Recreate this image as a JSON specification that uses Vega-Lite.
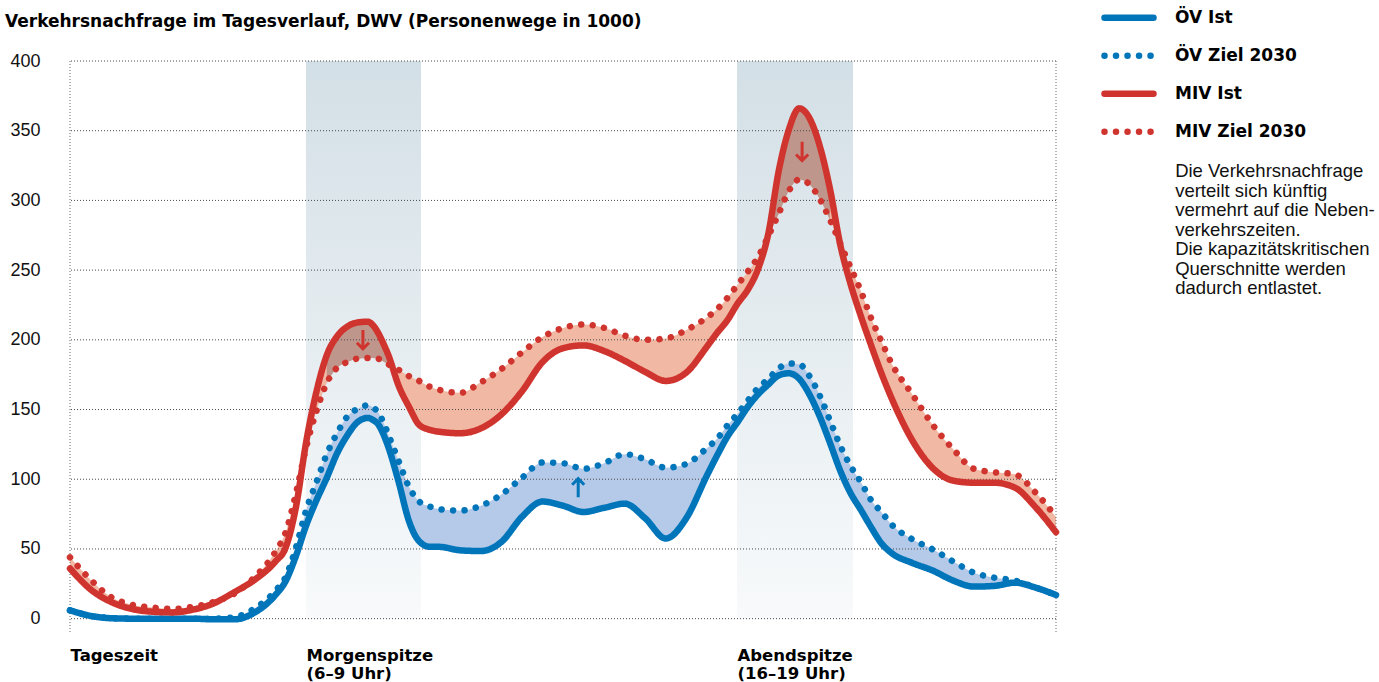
{
  "$schema": "https://vega.github.io/schema/vega-lite/v6.json",
  "width": 986,
  "height": 573,
  "autosize": {"type": "none"},
  "padding": {"left": 70, "top": 61, "right": 323, "bottom": 48},
  "background": "#ffffff",
  "title": {
    "text": "Verkehrsnachfrage im Tagesverlauf, DWV (Personenwege in 1000)",
    "anchor": "start",
    "frame": "group",
    "dx": -65,
    "dy": 56,
    "offset": 24,
    "font": "DejaVu Sans",
    "fontSize": 17,
    "fontWeight": "bold",
    "color": "#000000"
  },
  "datasets": {
    "verlauf": [
      {"t": 0, "oev_ist": 6, "oev_ziel": 6, "miv_ist": 36, "miv_ziel": 44},
      {"t": 0.5, "oev_ist": 2, "oev_ziel": 2, "miv_ist": 21, "miv_ziel": 28},
      {"t": 1, "oev_ist": 0.3, "oev_ziel": 0.5, "miv_ist": 12, "miv_ziel": 15.5},
      {"t": 1.5, "oev_ist": 0, "oev_ziel": 0, "miv_ist": 7, "miv_ziel": 10},
      {"t": 2, "oev_ist": 0, "oev_ziel": 0, "miv_ist": 5, "miv_ziel": 8},
      {"t": 2.5, "oev_ist": 0, "oev_ziel": 0, "miv_ist": 4.5, "miv_ziel": 7},
      {"t": 3, "oev_ist": 0, "oev_ziel": 0, "miv_ist": 6.5, "miv_ziel": 8.5},
      {"t": 3.5, "oev_ist": -0.5, "oev_ziel": 0, "miv_ist": 11, "miv_ziel": 12},
      {"t": 4, "oev_ist": -0.5, "oev_ziel": 1, "miv_ist": 19, "miv_ziel": 18},
      {"t": 4.5, "oev_ist": 4.5, "oev_ziel": 7.5, "miv_ist": 28, "miv_ziel": 30},
      {"t": 5, "oev_ist": 17, "oev_ziel": 20, "miv_ist": 41, "miv_ziel": 48},
      {"t": 5.25, "oev_ist": 27, "oev_ziel": 30, "miv_ist": 51, "miv_ziel": 62},
      {"t": 5.5, "oev_ist": 45, "oev_ziel": 51, "miv_ist": 80, "miv_ziel": 90},
      {"t": 5.75, "oev_ist": 67, "oev_ziel": 78, "miv_ist": 127, "miv_ziel": 123},
      {"t": 6, "oev_ist": 85, "oev_ziel": 98, "miv_ist": 163, "miv_ziel": 149},
      {"t": 6.25, "oev_ist": 101, "oev_ziel": 118, "miv_ist": 189, "miv_ziel": 169},
      {"t": 6.5, "oev_ist": 118.5, "oev_ziel": 133, "miv_ist": 202.5, "miv_ziel": 180},
      {"t": 6.75, "oev_ist": 131.5, "oev_ziel": 145, "miv_ist": 209.5, "miv_ziel": 184},
      {"t": 7, "oev_ist": 141, "oev_ziel": 150.5, "miv_ist": 212.5, "miv_ziel": 186.5},
      {"t": 7.25, "oev_ist": 144, "oev_ziel": 153, "miv_ist": 213, "miv_ziel": 187},
      {"t": 7.375, "oev_ist": 142.5, "oev_ziel": 151.5, "miv_ist": 210.5, "miv_ziel": 187},
      {"t": 7.5, "oev_ist": 139.5, "oev_ziel": 148, "miv_ist": 205, "miv_ziel": 186.5},
      {"t": 7.625, "oev_ist": 132.5, "oev_ziel": 141, "miv_ist": 197.5, "miv_ziel": 184.5},
      {"t": 7.75, "oev_ist": 123, "oev_ziel": 132, "miv_ist": 189, "miv_ziel": 182.5},
      {"t": 8, "oev_ist": 98, "oev_ziel": 113, "miv_ist": 167, "miv_ziel": 178.5},
      {"t": 8.25, "oev_ist": 70, "oev_ziel": 94.6, "miv_ist": 152, "miv_ziel": 174},
      {"t": 8.5, "oev_ist": 55.5, "oev_ziel": 84, "miv_ist": 139, "miv_ziel": 170.5},
      {"t": 8.75, "oev_ist": 51.6, "oev_ziel": 80.5, "miv_ist": 135.5, "miv_ziel": 166.5},
      {"t": 9, "oev_ist": 51.5, "oev_ziel": 78.5, "miv_ist": 134, "miv_ziel": 164},
      {"t": 9.5, "oev_ist": 49, "oev_ziel": 77.5, "miv_ist": 133, "miv_ziel": 162},
      {"t": 10, "oev_ist": 48.5, "oev_ziel": 81, "miv_ist": 136.5, "miv_ziel": 169.5},
      {"t": 10.5, "oev_ist": 55, "oev_ziel": 89, "miv_ist": 146.5, "miv_ziel": 179},
      {"t": 11, "oev_ist": 73, "oev_ziel": 101, "miv_ist": 163, "miv_ziel": 191},
      {"t": 11.5, "oev_ist": 84, "oev_ziel": 112, "miv_ist": 184, "miv_ziel": 202},
      {"t": 12, "oev_ist": 81, "oev_ziel": 111.5, "miv_ist": 194, "miv_ziel": 208.5},
      {"t": 12.5, "oev_ist": 76.5, "oev_ziel": 107.5, "miv_ist": 196, "miv_ziel": 211},
      {"t": 13, "oev_ist": 79.5, "oev_ziel": 111.5, "miv_ist": 192, "miv_ziel": 208.6},
      {"t": 13.5, "oev_ist": 82.5, "oev_ziel": 118, "miv_ist": 185, "miv_ziel": 203},
      {"t": 14, "oev_ist": 72, "oev_ziel": 114.3, "miv_ist": 177, "miv_ziel": 200},
      {"t": 14.5, "oev_ist": 57.5, "oev_ziel": 108.3, "miv_ist": 170.5, "miv_ziel": 201},
      {"t": 15, "oev_ist": 72, "oev_ziel": 111, "miv_ist": 176.5, "miv_ziel": 207},
      {"t": 15.5, "oev_ist": 102.5, "oev_ziel": 122.3, "miv_ist": 195, "miv_ziel": 216},
      {"t": 15.75, "oev_ist": 117, "oev_ziel": 129, "miv_ist": 205, "miv_ziel": 222},
      {"t": 16, "oev_ist": 130.5, "oev_ziel": 138.5, "miv_ist": 214, "miv_ziel": 230},
      {"t": 16.25, "oev_ist": 141, "oev_ziel": 147, "miv_ist": 226, "miv_ziel": 239.5},
      {"t": 16.5, "oev_ist": 152, "oev_ziel": 156.5, "miv_ist": 236, "miv_ziel": 249},
      {"t": 16.75, "oev_ist": 161, "oev_ziel": 165.5, "miv_ist": 251, "miv_ziel": 259.5},
      {"t": 17, "oev_ist": 168, "oev_ziel": 172, "miv_ist": 276.5, "miv_ziel": 274.5},
      {"t": 17.25, "oev_ist": 174.5, "oev_ziel": 179.5, "miv_ist": 321, "miv_ziel": 290.5},
      {"t": 17.5, "oev_ist": 176, "oev_ziel": 183, "miv_ist": 351, "miv_ziel": 307},
      {"t": 17.75, "oev_ist": 172, "oev_ziel": 182.5, "miv_ist": 366, "miv_ziel": 315},
      {"t": 18, "oev_ist": 160.7, "oev_ziel": 174, "miv_ist": 359, "miv_ziel": 311.5},
      {"t": 18.25, "oev_ist": 145, "oev_ziel": 160, "miv_ist": 339, "miv_ziel": 301},
      {"t": 18.5, "oev_ist": 126, "oev_ziel": 142, "miv_ist": 308, "miv_ziel": 286},
      {"t": 18.75, "oev_ist": 106, "oev_ziel": 124, "miv_ist": 268, "miv_ziel": 269},
      {"t": 19, "oev_ist": 90, "oev_ziel": 109.5, "miv_ist": 240, "miv_ziel": 252},
      {"t": 19.25, "oev_ist": 78, "oev_ziel": 98, "miv_ist": 217, "miv_ziel": 235},
      {"t": 19.5, "oev_ist": 65.5, "oev_ziel": 85, "miv_ist": 196, "miv_ziel": 215.5},
      {"t": 19.75, "oev_ist": 54, "oev_ziel": 76.5, "miv_ist": 176, "miv_ziel": 199},
      {"t": 20, "oev_ist": 47, "oev_ziel": 67.5, "miv_ist": 158, "miv_ziel": 183},
      {"t": 20.5, "oev_ist": 40, "oev_ziel": 57, "miv_ist": 128, "miv_ziel": 161},
      {"t": 21, "oev_ist": 34.5, "oev_ziel": 49.7, "miv_ist": 108, "miv_ziel": 139},
      {"t": 21.5, "oev_ist": 27.3, "oev_ziel": 41, "miv_ist": 99, "miv_ziel": 121.5},
      {"t": 22, "oev_ist": 23, "oev_ziel": 33, "miv_ist": 97.5, "miv_ziel": 107.5},
      {"t": 22.5, "oev_ist": 23.5, "oev_ziel": 29.4, "miv_ist": 97.5, "miv_ziel": 105},
      {"t": 23, "oev_ist": 25.8, "oev_ziel": 27.3, "miv_ist": 94, "miv_ziel": 103.5},
      {"t": 23.5, "oev_ist": 22.3, "oev_ziel": 22.3, "miv_ist": 80, "miv_ziel": 90.5},
      {"t": 24, "oev_ist": 17, "oev_ziel": 17, "miv_ist": 62, "miv_ziel": 73}
    ],
    "spitzen": [
      {"start": 5.744, "ende": 8.544},
      {"start": 16.235, "ende": 19.059}
    ],
    "raster": [
      {"wert": 0}, {"wert": 50}, {"wert": 100}, {"wert": 150}, {"wert": 200},
      {"wert": 250}, {"wert": 300}, {"wert": 350}, {"wert": 400}
    ],
    "rahmen": [{"t": 0}, {"t": 24}],
    "pfeile": [
      {"t": 7.13, "wert": 200, "richtung": "ab", "art": "miv"},
      {"t": 17.82, "wert": 335, "richtung": "ab", "art": "miv"},
      {"t": 12.37, "wert": 94, "richtung": "auf", "art": "oev"}
    ]
  },
  "layer": [
    {
      "data": {"name": "spitzen"},
      "mark": {
        "type": "rect",
        "color": {
          "gradient": "linear",
          "x1": 0, "y1": 0, "x2": 0, "y2": 1,
          "stops": [
            {"offset": 0, "color": "#d3dfe6"},
            {"offset": 1, "color": "#f8fafb"}
          ]
        }
      },
      "encoding": {
        "x": {
          "field": "start",
          "type": "quantitative",
          "scale": {"domain": [0, 24], "nice": false, "zero": false},
          "axis": {
            "values": [0, 5.744, 16.235],
            "labelExpr": "datum.value < 1 ? 'Tageszeit' : datum.value < 10 ? ['Morgenspitze', '(6–9 Uhr)'] : ['Abendspitze', '(16–19 Uhr)']",
            "labelAlign": "left",
            "labelBaseline": "top",
            "labelPadding": 13,
            "labelLineHeight": 18,
            "labelFont": "DejaVu Sans",
            "labelFontWeight": "bold",
            "labelFontSize": 16.5,
            "labelColor": "#000000",
            "labelOverlap": false,
            "labelFlush": false,
            "labelBound": false,
            "ticks": false,
            "domain": false,
            "grid": false,
            "title": null
          }
        },
        "x2": {"field": "ende"},
        "y": {
          "datum": 400,
          "type": "quantitative",
          "scale": {"domain": [-11, 400], "nice": false, "zero": false},
          "axis": {
            "values": [0, 50, 100, 150, 200, 250, 300, 350, 400],
            "labelFont": "Liberation Sans",
            "labelFontSize": 18,
            "labelColor": "#111111",
            "labelPadding": 30,
            "labelAlign": "right",
            "labelBaseline": "middle",
            "ticks": false,
            "domain": false,
            "grid": false,
            "title": null
          }
        },
        "y2": {"datum": 0}
      }
    },
    {
      "data": {"name": "verlauf"},
      "mark": {"type": "area", "interpolate": "monotone", "color": "#f1b9a3"},
      "encoding": {
        "x": {"field": "t", "type": "quantitative"},
        "y": {"field": "miv_ziel", "type": "quantitative"},
        "y2": {"field": "miv_ist"}
      }
    },
    {
      "data": {"name": "verlauf"},
      "transform": [{"filter": "datum.miv_ist >= datum.miv_ziel && datum.t > 6.1"}],
      "mark": {"type": "area", "interpolate": "monotone", "color": "#bf968b"},
      "encoding": {
        "x": {"field": "t", "type": "quantitative"},
        "y": {"field": "miv_ziel", "type": "quantitative"},
        "y2": {"field": "miv_ist"},
        "detail": {"field": "t", "bin": {"extent": [0, 24], "step": 12}, "type": "quantitative"}
      }
    },
    {
      "data": {"name": "verlauf"},
      "mark": {"type": "area", "interpolate": "monotone", "color": "#b5c9e8"},
      "encoding": {
        "x": {"field": "t", "type": "quantitative"},
        "y": {"field": "oev_ziel", "type": "quantitative"},
        "y2": {"field": "oev_ist"}
      }
    },
    {
      "data": {"name": "raster"},
      "mark": {"type": "rule", "color": "#4a4a4a", "strokeWidth": 1, "strokeDash": [1, 2]},
      "encoding": {
        "y": {"field": "wert", "type": "quantitative"}
      }
    },
    {
      "data": {"name": "rahmen"},
      "mark": {"type": "rule", "color": "#6a6a6a", "strokeWidth": 1, "strokeDash": [1, 2]},
      "encoding": {
        "x": {"field": "t", "type": "quantitative"}
      }
    },
    {
      "data": {"name": "verlauf"},
      "transform": [
        {"fold": ["oev_ziel", "oev_ist", "miv_ziel", "miv_ist"], "as": ["serie", "wert"]}
      ],
      "mark": {"type": "line", "interpolate": "monotone", "strokeWidth": 6.5, "strokeCap": "round", "strokeJoin": "round"},
      "encoding": {
        "x": {"field": "t", "type": "quantitative"},
        "y": {"field": "wert", "type": "quantitative"},
        "color": {
          "field": "serie",
          "type": "nominal",
          "scale": {
            "domain": ["oev_ist", "oev_ziel", "miv_ist", "miv_ziel"],
            "range": ["#0075b9", "#0075b9", "#d0342f", "#d0342f"]
          },
          "legend": {
            "orient": "none",
            "legendX": 1031,
            "legendY": -62,
            "title": null,
            "padding": 0,
            "symbolType": "stroke",
            "symbolSize": 2401,
            "symbolStrokeWidth": 6.5,
            "clipHeight": 37.5,
            "rowPadding": 0,
            "labelOffset": 18,
            "labelFont": "DejaVu Sans",
            "labelFontWeight": "bold",
            "labelFontSize": 17,
            "labelColor": "#000000",
            "labelExpr": "datum.label == 'oev_ist' ? 'ÖV Ist' : datum.label == 'oev_ziel' ? 'ÖV Ziel 2030' : datum.label == 'miv_ist' ? 'MIV Ist' : 'MIV Ziel 2030'",
            "encode": {"symbols": {"update": {"strokeCap": {"value": "round"}}}}
          }
        },
        "strokeDash": {
          "field": "serie",
          "type": "nominal",
          "scale": {
            "domain": ["oev_ist", "oev_ziel", "miv_ist", "miv_ziel"],
            "range": [[1, 0], [0.01, 11.5], [1, 0], [0.01, 11.5]]
          },
          "legend": {
            "orient": "none",
            "legendX": 1031,
            "legendY": -62,
            "title": null,
            "padding": 0,
            "symbolType": "stroke",
            "symbolSize": 2401,
            "symbolStrokeWidth": 6.5,
            "clipHeight": 37.5,
            "rowPadding": 0,
            "labelOffset": 18,
            "labelFont": "DejaVu Sans",
            "labelFontWeight": "bold",
            "labelFontSize": 17,
            "labelColor": "#000000",
            "labelExpr": "datum.label == 'oev_ist' ? 'ÖV Ist' : datum.label == 'oev_ziel' ? 'ÖV Ziel 2030' : datum.label == 'miv_ist' ? 'MIV Ist' : 'MIV Ziel 2030'",
            "encode": {"symbols": {"update": {"strokeCap": {"value": "round"}}}}
          }
        },
        "order": {"field": "t", "type": "quantitative"}
      }
    },
    {
      "data": {"name": "pfeile"},
      "mark": {"type": "point", "filled": false, "strokeWidth": 3, "strokeCap": "butt", "strokeJoin": "miter", "size": 380, "opacity": 1},
      "encoding": {
        "x": {"field": "t", "type": "quantitative"},
        "y": {"field": "wert", "type": "quantitative"},
        "shape": {
          "field": "richtung",
          "type": "nominal",
          "scale": {
            "domain": ["ab", "auf"],
            "range": ["M0,-1L0,0.9M-0.62,0.3L0,0.92L0.62,0.3", "M0,1L0,-0.9M-0.62,-0.3L0,-0.92L0.62,-0.3"]
          },
          "legend": null
        },
        "stroke": {"condition": {"test": "datum.art == 'miv'", "value": "#d0342f"}, "value": "#0075b9"}
      }
    },
    {
      "data": {"values": [{}]},
      "mark": {"type": "text", "font": "Liberation Sans", "fontSize": 18.5, "align": "left", "baseline": "top", "lineHeight": 19.5, "color": "#111111"},
      "encoding": {
        "x": {"datum": 26.9, "type": "quantitative"},
        "y": {"datum": 327.5, "type": "quantitative"},
        "text": {"value": ["Die Verkehrsnachfrage", "verteilt sich künftig", "vermehrt auf die Neben-", "verkehrszeiten.", "Die kapazitätskritischen", "Querschnitte werden", "dadurch entlastet."]}
      }
    }
  ],
  "config": {
    "view": {"stroke": null},
    "axis": {"grid": false}
  }
}
